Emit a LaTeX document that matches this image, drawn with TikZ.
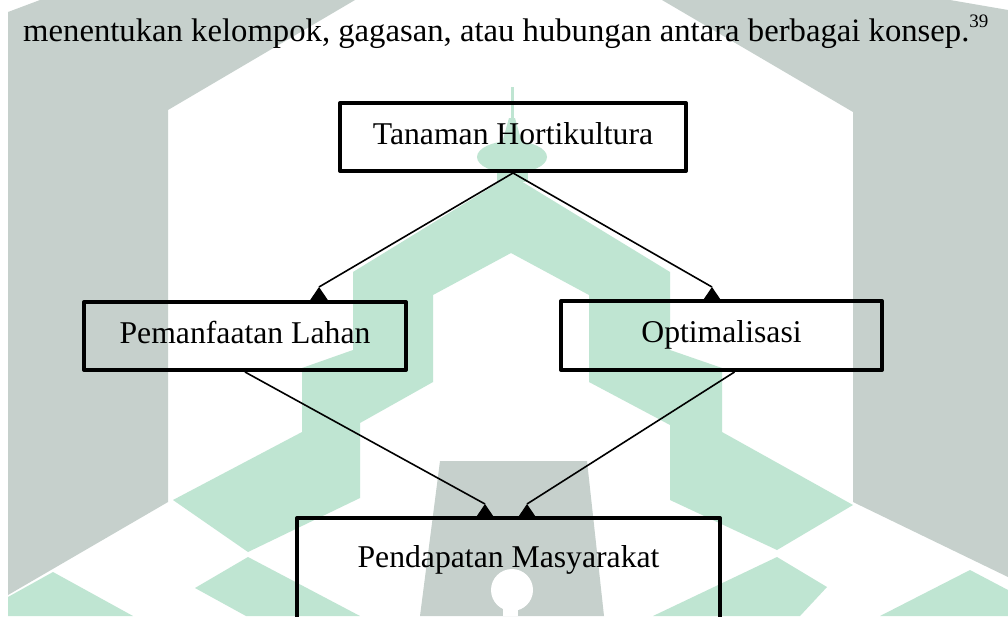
\documentclass[tikz,border=0pt]{standalone}
\usepackage{fontspec}
\setmainfont{Liberation Serif}
\definecolor{wmgray}{RGB}{198,208,204}
\definecolor{wmgreen}{RGB}{191,229,210}
\tikzset{
  box/.style={draw=black, line width=4pt, line join=round, inner sep=0pt,
    text height=22pt, text depth=8pt, font=\fontsize{31.7}{38}\selectfont},
  conn/.style={line width=1.6pt, draw=black},
  tiphead/.style={fill=black},
  wmg/.style={fill=wmgray},
  wmc/.style={fill=wmgreen}
}
\begin{document}
\begin{tikzpicture}[x=1pt,y=-1pt]
\useasboundingbox (0,0) rectangle (1008,616);
\clip (0,0) rectangle (1008,616);
\fill[white] (0,0) rectangle (1008,616);
% watermark: gray
\fill[wmg] (8,12) -- (40,0) -- (355,0) -- (168,110) -- (168,502) -- (8,595) -- cycle;
\fill[wmg] (662,0) -- (950,0) -- (1008,10) -- (1008,577) -- (853,502) -- (853,112) -- cycle;
\fill[wmg] (440,461) -- (587,461) -- (604,616) -- (420,616) -- cycle;
\fill[white] (512,590) circle (21);
\fill[white] (503,598) rectangle (518,616);
% watermark: green
\fill[wmc] (511,175) -- (353,272) -- (353,350) -- (302,368) -- (302,432) -- (173,500)
  -- (248,552) -- (360,498) -- (360,423) -- (433,382) -- (433,295) -- (511,253)
  -- (589,295) -- (589,382) -- (670,425) -- (670,500) -- (777,550) -- (853,505)
  -- (722,432) -- (722,368) -- (670,350) -- (670,272) -- cycle;
\fill[wmc] (512,157) ellipse (35 and 16);
\fill[wmc] (509,118) -- (515,118) -- (522,143) -- (502,143) -- cycle;
\fill[wmc] (510.5,87) rectangle (513.5,119);
\fill[wmc] (497,168) rectangle (528,182);
\fill[wmc] (248,557) -- (360,616) -- (246,616) -- (195,588) -- cycle;
\fill[wmc] (8,597) -- (53,572) -- (133,616) -- (8,616) -- cycle;
\fill[wmc] (777,557) -- (827,587) -- (800,616) -- (653,616) -- cycle;
\fill[wmc] (880,616) -- (970,570) -- (1008,590) -- (1008,616) -- cycle;
% heading text
\node[anchor=base west, inner sep=0pt, font=\fontsize{32.7}{38}\selectfont] (intro) at (23,41)
  {menentukan kelompok, gagasan, atau hubungan antara berbagai konsep.\raisebox{14pt}{\fontsize{19}{19}\selectfont 39}};
% boxes
\node[box, minimum width=346pt, minimum height=68pt] (hort) at (513,137) {Tanaman Hortikultura};
\node[box, minimum width=322pt, minimum height=68pt] (lahan) at (245,336) {Pemanfaatan Lahan};
\node[box, minimum width=321pt, minimum height=69pt] (opt) at (721.5,335.5) {Optimalisasi};
\node[box, minimum width=423pt, minimum height=130pt, text depth=54pt] (pend) at (508.5,583) {Pendapatan Masyarakat};
% arrow tips
\coordinate (tipL) at (319,287);
\coordinate (tipR) at (712,287);
\coordinate (tipB1) at (485,504);
\coordinate (tipB2) at (527,504);
\draw[conn] (hort.south) -- (tipL);
\draw[conn] (hort.south) -- (tipR);
\draw[conn] (lahan.south) -- (tipB1);
\draw[conn] ([xshift=13pt]opt.south) -- (tipB2);
\foreach \t in {tipL,tipR,tipB1,tipB2}
  \fill[tiphead] (\t) -- ++(-9.5,14) -- ++(19,0) -- cycle;
\end{tikzpicture}
\end{document}
